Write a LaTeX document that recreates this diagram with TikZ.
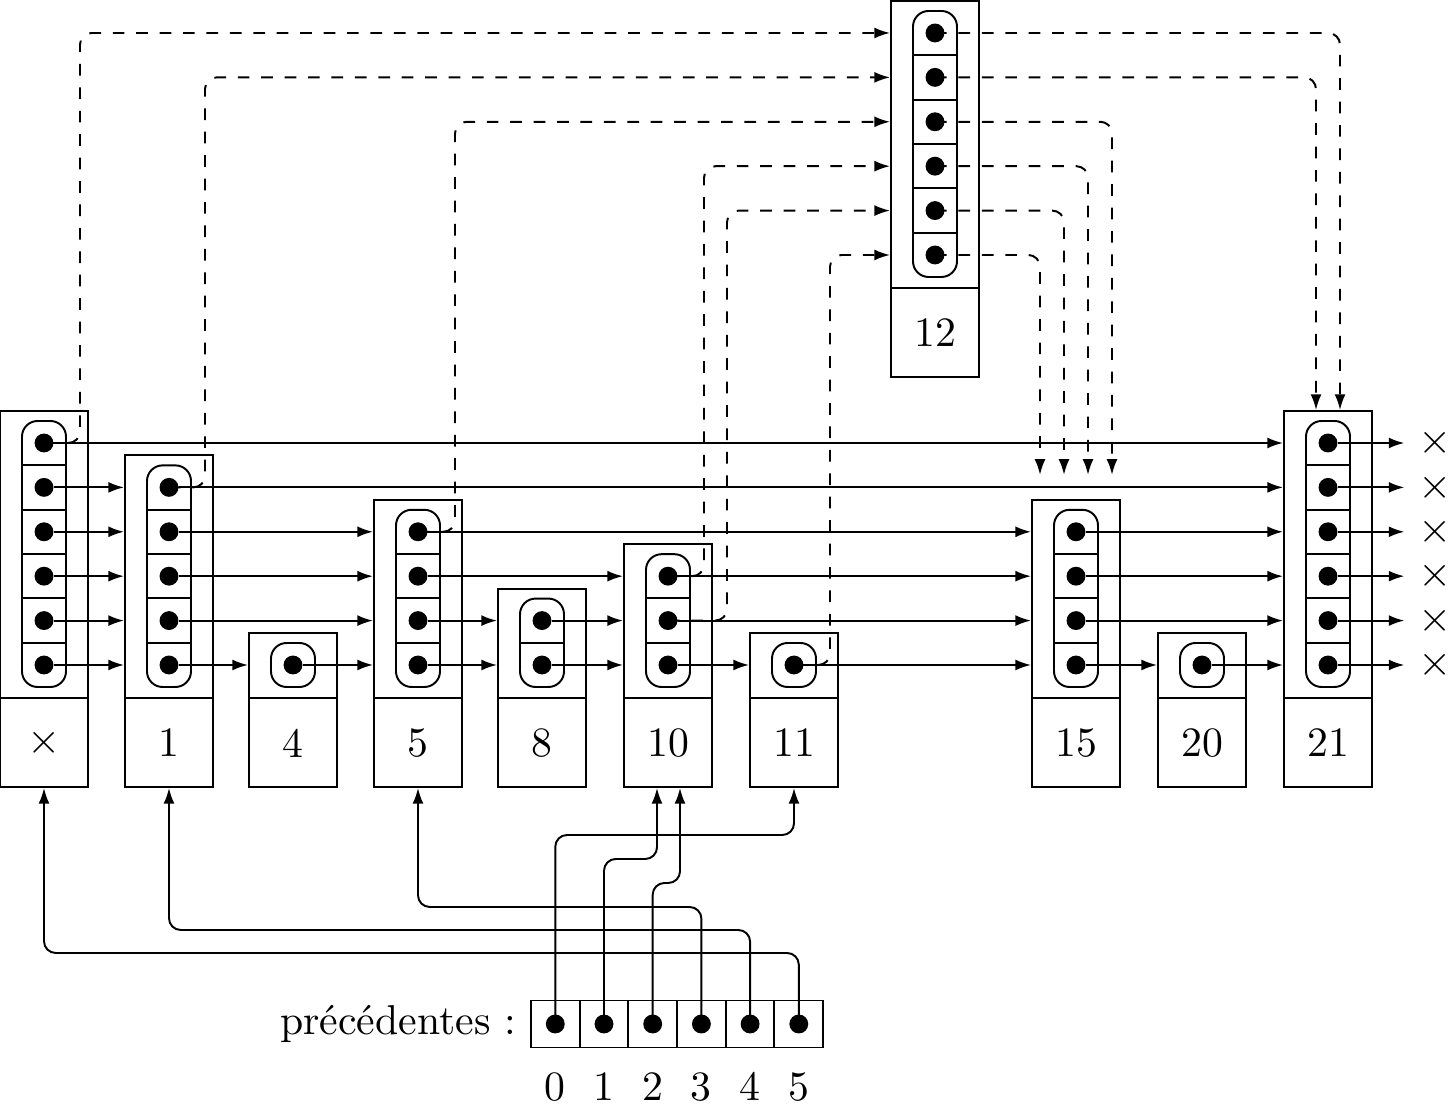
\documentclass[tikz,border=0pt]{standalone}
\usepackage{fontspec}
\usetikzlibrary{arrows.meta,positioning,fit,calc}

\tikzset{
  dot/.style={circle,fill,inner sep=0pt,minimum size=0.17cm},
  outer/.style={draw,inner sep=0pt},
  cell/.style={draw,minimum width=0.438cm,minimum height=0.423cm},
  ptr/.style={-{Latex[length=4pt,width=2.8pt]}},
  upd/.style={ptr,dashed,rounded corners=3pt},
}

\begin{document}
\begin{tikzpicture}[x=0.009cm,y=-0.009cm,line width=0.5pt,
    font=\fontsize{10.7pt}{13pt}\selectfont]
    \useasboundingbox (0,0) rectangle (1456,1116);

    % --- Towers ---
    % name / x of the pointer column / top level / vertical shift / key
    \foreach \nm/\x/\tp/\dy/\key in {h/44/5/0/$\times$, t1/169/4/0/1, t4/293/0/0/4,
        t5/418/3/0/5, t8/542/1/0/8, t10/668/2/0/10, t11/794/0/0/11,
        t12/935/5/-410/12, t15/1076/3/0/15, t20/1202/0/0/20, t21/1328/5/0/21}{
      % outer box, from the top pointer down to the key
      \coordinate (\nm-nw) at (\x-44, 633-44.4*\tp+\dy);
      \coordinate (\nm-se) at (\x+44, 787+\dy);
      \node[outer, fit=(\nm-nw)(\nm-se)] (\nm) {};
      % key part
      \draw (\x-44, 698+\dy) -- (\x+44, 698+\dy);
      \node at (\x, 743+\dy) {\key};
      % rounded column of pointers, one cell per level
      \draw[rounded corners=4pt] (\x-22, 643-44.4*\tp+\dy) rectangle (\x+22, 687+\dy);
      \ifnum\tp>0
        \foreach \k in {1,...,\tp}
          \draw (\x-22, 687.2-44.4*\k+\dy) -- (\x+22, 687.2-44.4*\k+\dy);
      \fi
      \foreach \k in {0,...,\tp}
        \node[dot] (\nm-\k) at (\x, 665-44.4*\k+\dy) {};
    }

    % --- Forward pointers, level by level ---
    \foreach \a/\b/\k in {h/t21/5,
        h/t1/4, t1/t21/4,
        h/t1/3, t1/t5/3, t5/t15/3, t15/t21/3,
        h/t1/2, t1/t5/2, t5/t10/2, t10/t15/2, t15/t21/2,
        h/t1/1, t1/t5/1, t5/t8/1, t8/t10/1, t10/t15/1, t15/t21/1,
        h/t1/0, t1/t4/0, t4/t5/0, t5/t8/0, t8/t10/0, t10/t11/0,
        t11/t15/0, t15/t20/0, t20/t21/0}
      \draw[ptr] (\a-\k) -- (\b.west |- \a-\k);

    % end of the list
    \foreach \k in {0,...,5}{
      \node (nil-\k) at (1435, 665-44.4*\k) {$\times$};
      \draw[ptr] (t21-\k) -- (nil-\k);
    }

    % --- Pointers changed by the insertion of 12 ---
    % predecessors -> 12
    \foreach \a/\k/\dx in {h/5/36, t1/4/36, t5/3/37, t10/2/36, t10/1/59, t11/0/36}
      \draw[upd] (\a-\k.center) -- ++(\dx,0) |- (t12.west |- t12-\k);
    % 12 -> successors
    \foreach \k/\b/\dx/\dy in {5/t21/12/0, 4/t21/-12/0, 3/t15/36/-24,
        2/t15/12/-24, 1/t15/-12/-24, 0/t15/-36/-24}
      \draw[upd] (t12-\k.center) -| ($(\b.north)+(\dx,\dy)$);

    % --- Array of predecessors ---
    \foreach \i in {0,...,5}{
      \node[cell] (p\i) at (555.3+48.7*\i, 1024) {};
      \node[dot] (pd\i) at (p\i) {};
      \node[below=0.09cm of p\i] (num\i) {\i};
    }
    \node[left=0pt of p0] (prec) {précédentes :};

    % links to the towers
    \draw[ptr,rounded corners=3pt] (pd0.center) -- ++(0,-189) -| (t11.south);
    \draw[ptr,rounded corners=3pt] (pd1.center) -- ++(0,-165) -| ($(t10.south)+(-11,0)$);
    \draw[ptr,rounded corners=3pt] (pd2.center) -- ++(0,-141) -| ($(t10.south)+(12,0)$);
    \draw[ptr,rounded corners=3pt] (pd3.center) -- ++(0,-117) -| (t5.south);
    \draw[ptr,rounded corners=3pt] (pd4.center) -- ++(0,-94) -| (t1.south);
    \draw[ptr,rounded corners=3pt] (pd5.center) -- ++(0,-71) -| (h.south);

\end{tikzpicture}
\end{document}
